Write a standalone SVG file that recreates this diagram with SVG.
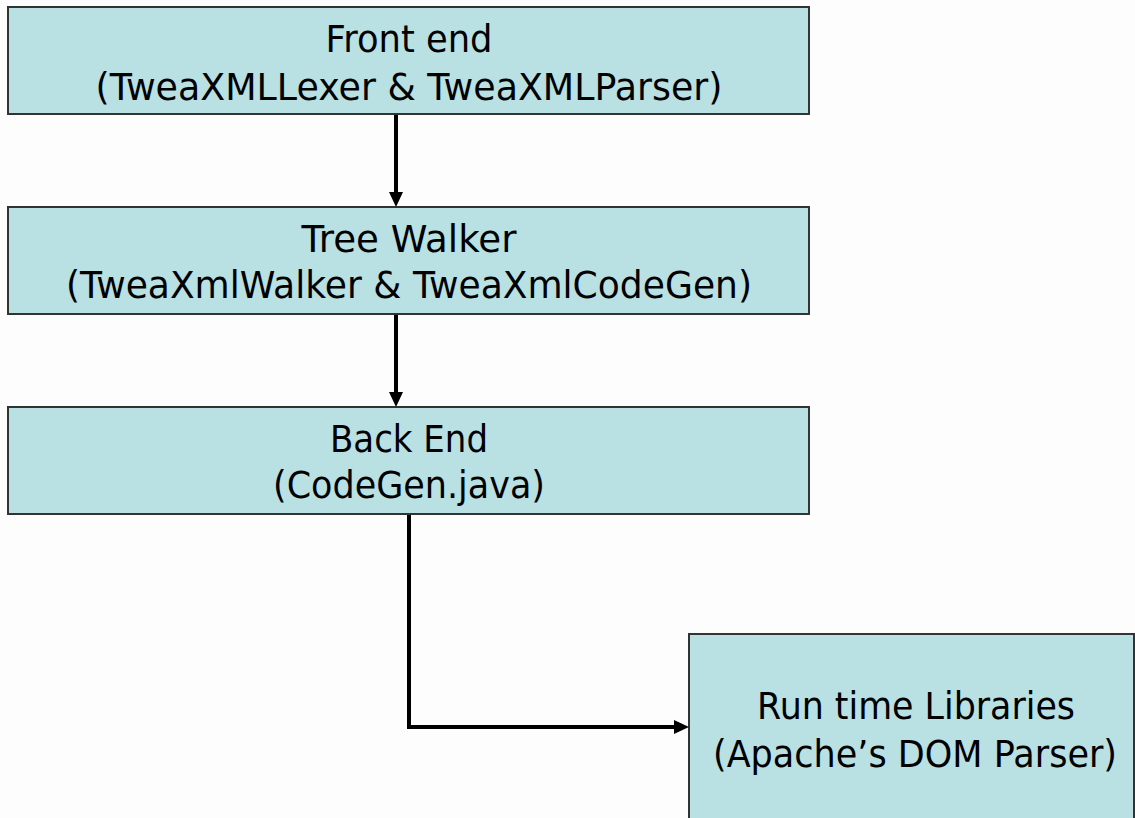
<svg xmlns="http://www.w3.org/2000/svg" width="1135" height="818" viewBox="0 0 1135 818">
  <style>
    .box { fill: #b9e0e3; stroke: #333333; stroke-width: 2; }
    .lbl { font-family: "DejaVu Sans", "Liberation Sans", sans-serif; font-size: 37px; fill: #000000; text-anchor: middle; }
    .wire { fill: none; stroke: #000000; stroke-width: 4; }
  </style>
  <defs>
    <marker id="head" viewBox="0 0 15 14" refX="0" refY="7" markerWidth="15" markerHeight="14" markerUnits="userSpaceOnUse" orient="auto">
      <path d="M0,0 L15,7 L0,14 z" fill="#000000"/>
    </marker>
  </defs>
  <rect width="1135" height="818" fill="#fdfdfd"/>

  <g id="front-end">
    <rect class="box" x="8" y="7" width="801" height="107"/>
    <text class="lbl" x="409" y="52" textLength="167" lengthAdjust="spacingAndGlyphs">Front end</text>
    <text class="lbl" x="409" y="100" textLength="627" lengthAdjust="spacingAndGlyphs">(TweaXMLLexer &amp; TweaXMLParser)</text>
  </g>

  <g id="tree-walker">
    <rect class="box" x="8" y="207" width="801" height="107"/>
    <text class="lbl" x="409" y="252" textLength="215" lengthAdjust="spacingAndGlyphs">Tree Walker</text>
    <text class="lbl" x="409" y="298" textLength="686" lengthAdjust="spacingAndGlyphs">(TweaXmlWalker &amp; TweaXmlCodeGen)</text>
  </g>

  <g id="back-end">
    <rect class="box" x="8" y="407" width="801" height="107"/>
    <text class="lbl" x="409" y="452" textLength="158" lengthAdjust="spacingAndGlyphs">Back End</text>
    <text class="lbl" x="409" y="498" textLength="272" lengthAdjust="spacingAndGlyphs">(CodeGen.java)</text>
  </g>

  <g id="runtime-libraries">
    <!-- box runs off the bottom of the page; its lower edge sits just below the frame -->
    <rect class="box" x="689" y="634" width="445" height="186"/>
    <text class="lbl" x="916" y="719" textLength="318" lengthAdjust="spacingAndGlyphs">Run time Libraries</text>
    <text class="lbl" x="915" y="767" textLength="404" lengthAdjust="spacingAndGlyphs">(Apache’s DOM Parser)</text>
  </g>

  <g id="connectors">
    <path class="wire" d="M396,115 L396,192" marker-end="url(#head)"/>
    <path class="wire" d="M396,315 L396,392" marker-end="url(#head)"/>
    <path class="wire" d="M409,515 L409,727 L674,727" marker-end="url(#head)"/>
  </g>
</svg>
